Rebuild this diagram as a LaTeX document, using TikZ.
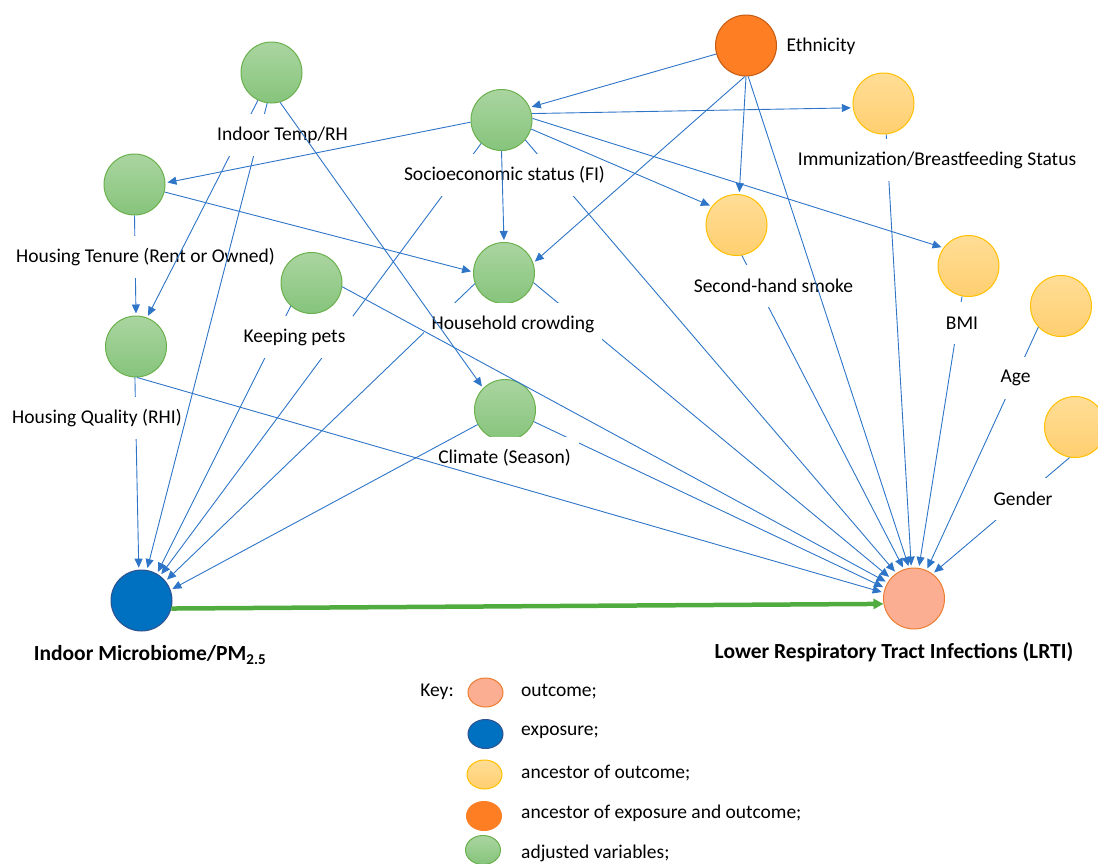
\documentclass[tikz,border=0pt]{standalone}
\usepackage{fontspec}
\setmainfont{Carlito}
\usetikzlibrary{arrows.meta,shapes.geometric}
\definecolor{lnblue}{RGB}{46,117,200}
\definecolor{gfillA}{RGB}{170,213,160}
\definecolor{gfillB}{RGB}{134,196,124}
\definecolor{gdraw}{RGB}{106,176,76}
\definecolor{yfillA}{RGB}{255,221,150}
\definecolor{yfillB}{RGB}{255,207,112}
\definecolor{ydraw}{RGB}{255,192,0}
\definecolor{ofill}{RGB}{253,126,35}
\definecolor{odraw}{RGB}{197,90,17}
\definecolor{bfill}{RGB}{0,112,192}
\definecolor{bdraw}{RGB}{47,82,143}
\definecolor{sfill}{RGB}{251,174,146}
\definecolor{sdraw}{RGB}{237,125,49}
\definecolor{arrgreen}{RGB}{80,172,62}
\newcommand\labfont{\fontsize{19.5}{23}\selectfont}
\newcommand\bigfont{\fontsize{21.5}{25}\selectfont}
\tikzset{
  cn/.style={circle, minimum size=61pt, inner sep=0pt, line width=1pt},
  gn/.style={cn, draw=gdraw, top color=gfillA, bottom color=gfillB},
  yn/.style={cn, draw=ydraw, top color=yfillA, bottom color=yfillB},
  on/.style={cn, draw=odraw, fill=ofill},
  bn/.style={cn, draw=bdraw, fill=bfill},
  sn/.style={cn, draw=sdraw, fill=sfill},
  e/.style={draw=lnblue, line width=0.9pt, -{Triangle[length=9pt,width=8pt]}, shorten >=2pt},
  ge/.style={draw=arrgreen, line width=4.5pt, -{Triangle[length=10pt,width=10pt]}},
  lab/.style={fill=white, inner xsep=8pt, inner ysep=0pt, minimum height=42pt, font=\labfont},
  kel/.style={ellipse, minimum width=35pt, minimum height=29pt, inner sep=0pt, line width=1pt},
  kt/.style={anchor=west, inner sep=0pt, font=\labfont},
}
\begin{document}
\begin{tikzpicture}[x=1pt,y=-1pt]
\useasboundingbox (0,0) rectangle (1098,863);
\clip (0,0) rectangle (1098,863);
% circles
\node[gn] (temp) at (271.5,72.5) {};
\node[gn] (ht) at (134.5,184.5) {};
\node[gn] (kp) at (311.5,283) {};
\node[gn] (hq) at (136,346.5) {};
\node[gn] (ses) at (501.5,120) {};
\node[gn] (hc) at (504,273) {};
\node[gn] (clim) at (505,410) {};
\node[on] (eth) at (746,45.5) {};
\node[yn] (imm) at (883.5,103.5) {};
\node[yn] (shs) at (736.5,225) {};
\node[yn] (bmi) at (968.5,266) {};
\node[yn] (age) at (1061,306) {};
\node[yn] (gen) at (1075,427) {};
\node[bn] (mic) at (141.5,600.5) {};
\node[sn] (lrti) at (914,598.5) {};
% edges hidden under their own labels
\draw[e] (ses.-131) -- (mic.53);
\draw[e] (ses.-40) -- (lrti.125);
\draw[e] (hc.-160) -- (mic.39);
\draw[e] (hc.-18) -- (lrti.139);
\draw[e] (clim.-22) -- (lrti.160);
\draw[e] (kp.-132) -- (mic.60);
\draw[e] (hq.-92) -- (mic.95);
\draw[e] (ht.-90) -- (hq.90);
\draw[e] (shs.-80) -- (lrti.109);
\draw[e] (imm.-85) -- (lrti.95.5);
\draw[e] (bmi.-102) -- (lrti.81.6);
\draw[e] (age.-137.5) -- (lrti.66);
\draw[e] (gen.-100) -- (lrti.53);
% labels
\node[lab, inner xsep=4pt] (l-ht) at (145.5,257) {Housing Tenure (Rent or Owned)};
\node[lab] (l-kp) at (294.5,337) {Keeping pets};
\node[lab] (l-hq) at (97,418) {Housing Quality (RHI)};
\node[lab] (l-ses) at (504.5,175) {Socioeconomic status (FI)};
\node[lab] (l-hc) at (513,324) {Household crowding};
\node[lab] (l-clim) at (504.5,458) {Climate (Season)};
\node[lab] (l-eth) at (821,46) {Ethnicity};
\node[lab] (l-imm) at (937,160) {Immunization/Breastfeeding Status};
\node[lab] (l-shs) at (773.5,286) {Second-hand smoke};
\node[lab] (l-bmi) at (962,323) {BMI};
\node[lab] (l-age) at (1015.5,378) {Age};
\node[lab] (l-gen) at (1023,499) {Gender};
% edges from Indoor Temp hidden under its label
\draw[e] (temp.-116) -- (hq.69);
\draw[e] (temp.-98) -- (mic.80);
\node[lab] (l-temp) at (282.5,135) {Indoor Temp/RH};
% remaining edges
\draw[e] (temp.-74) -- (clim.135);
\draw[e] (ses.-176) -- (ht.3);
\draw[e] (ht.-14) -- (hc.178);
\draw[e] (ses.-90) -- (hc.90);
\draw[e] (ses.12.5) -- (imm.-172);
\draw[e] (ses.-17.6) -- (shs.143);
\draw[e] (ses.3.5) -- (bmi.144);
\draw[e] (eth.-164) -- (ses.24.5);
\draw[e] (eth.-92) -- (hc.19.5);
\draw[e] (eth.-90) -- (shs.85);
\draw[e] (eth.-86) -- (lrti.99.6);
\draw[e] (hq.-88) -- (lrti.169.6);
\draw[e] (kp.-7) -- (lrti.149);
\draw[e] (clim.-152) -- (mic.20);
\draw[ge] (mic.-15) -- (lrti.-170);
% main labels
\node[font=\bigfont\bfseries] (l-mic) at (150,655) {Indoor Microbiome/PM\textsubscript{2.5}};
\node[font=\bigfont\bfseries] (l-lrti) at (894,652) {Lower Respiratory Tract Infections (LRTI)};
% legend
\node[font=\labfont, inner sep=0pt] (key) at (437,692) {Key:};
\node[kel, draw=sdraw, fill=sfill] (k1) at (485.5,692.5) {};
\node[kel, draw=bdraw, fill=bfill] (k2) at (485.5,734) {};
\node[kel, draw=ydraw, top color=yfillA, bottom color=yfillB] (k3) at (484.5,774.5) {};
\node[kel, draw=ofill, fill=ofill] (k4) at (484,816) {};
\node[kel, draw=gdraw, top color=gfillA, bottom color=gfillB] (k5) at (483,850) {};
\node[kt] (t1) at (521,692) {outcome;};
\node[kt] (t2) at (521,732) {exposure;};
\node[kt] (t3) at (521,773) {ancestor of outcome;};
\node[kt] (t4) at (521,813) {ancestor of exposure and outcome;};
\node[kt] (t5) at (521,853) {adjusted variables;};
\end{tikzpicture}
\end{document}
